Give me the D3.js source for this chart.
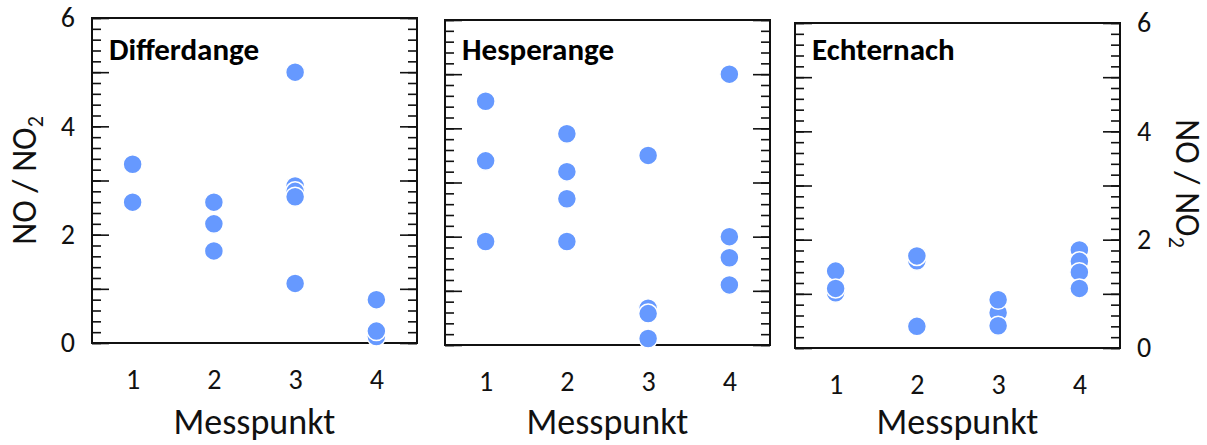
<!DOCTYPE html>
<html>
<head>
<meta charset="utf-8">
<script src="https://cdn.jsdelivr.net/npm/d3@7"></script>
<style>
  body { margin: 0; background: #fff; }
  svg { display: block; font-family: Carlito, Lato, "Open Sans", sans-serif; }
</style>
</head>
<body>
<div id="chart"></div>
<script>
// x categories and tick labels
var messpunkte = [1, 2, 3, 4];
var yLabels = [0, 2, 4, 6];
var siteNames = ["Differdange", "Hesperange", "Echternach"];

// NO/NO2 values per Messpunkt (listed in drawing order)
var differdange = [[3.30, 2.60], [2.60, 2.20, 1.70], [5.00, 2.90, 2.80, 2.70, 1.10], [0.80, 0.12, 0.22]];
var hesperange = [[4.50, 3.40, 1.91], [3.90, 3.20, 2.70, 1.91], [3.50, 0.68, 0.58, 0.12], [5.00, 2.00, 1.61, 1.11]];
var echternach = [[1.42, 1.02, 1.10], [1.61, 1.70, 0.40], [0.65, 0.89, 0.41], [1.81, 1.60, 1.40, 1.10]];

var W = 1207, H = 445;
var size = 325;
var panels = [
    { name: siteNames[0], data: differdange, left: 92, top: 18, labels: "left" },
    { name: siteNames[1], data: hesperange, left: 445, top: 20, labels: "none" },
    { name: siteNames[2], data: echternach, left: 795, top: 23, labels: "right" }
];

var svg = d3.select("#chart").append("svg")
    .attr("width", W)
    .attr("height", H);

var x = d3.scaleLinear().domain([0.5, 4.5]).range([0, size]);
var y = d3.scaleLinear().domain([0, 6]).range([size, 0]);

panels.forEach(function (p) {
    var g = svg.append("g").attr("transform", "translate(" + p.left + "," + p.top + ")");

    // minor ticks every 0.2, major every 1, both sides, pointing inward
    var minorVals = d3.range(0, 31).map(function (i) { return i / 5; });
    var majorVals = d3.range(0, 7);

    function addTicks(axisFn, xpos, vals, len) {
        var a = g.append("g")
            .attr("transform", "translate(" + xpos + ",0)")
            .call(axisFn(y).tickValues(vals).tickSize(-len).tickFormat(""));
        a.select(".domain").remove();
        a.selectAll("line").attr("stroke", "#111").attr("stroke-width", 1.6);
    }
    addTicks(d3.axisLeft, 0, minorVals, 9);
    addTicks(d3.axisLeft, 0, majorVals, 17);
    addTicks(d3.axisRight, size, minorVals, 9);
    addTicks(d3.axisRight, size, majorVals, 17);

    g.append("rect")
        .attr("x", 0).attr("y", 0)
        .attr("width", size).attr("height", size)
        .attr("fill", "none")
        .attr("stroke", "#111")
        .attr("stroke-width", 2);

    // y tick labels
    if (p.labels !== "none") {
        var ax = p.labels === "left" ? d3.axisLeft(y) : d3.axisRight(y);
        var lab = g.append("g")
            .attr("transform", "translate(" + (p.labels === "left" ? 0 : size) + ",0)")
            .call(ax.tickValues(yLabels).tickSize(0).tickPadding(17).tickFormat(d3.format("d")));
        lab.select(".domain").remove();
        lab.attr("font-size", null).attr("font-family", null);
        lab.selectAll("text").attr("font-size", 28).attr("fill", "#111");

        var yl = g.append("text")
            .attr("text-anchor", "middle")
            .attr("font-size", 34)
            .attr("fill", "#111");
        if (p.labels === "left") {
            yl.attr("transform", "translate(" + (-56) + "," + (size / 2) + ") rotate(-90)");
        } else {
            yl.attr("transform", "translate(" + (size + 56) + "," + (size / 2 - 2) + ") rotate(90)");
        }
        yl.append("tspan").text("NO / NO");
        yl.append("tspan").attr("font-size", 22).attr("dy", 7).text("2");
    }

    // x tick labels
    var xa = g.append("g")
        .attr("transform", "translate(0," + size + ")")
        .call(d3.axisBottom(x).tickValues(messpunkte).tickSize(0).tickPadding(26).tickFormat(d3.format("d")));
    xa.select(".domain").remove();
    xa.attr("font-size", null).attr("font-family", null);
    xa.selectAll("text").attr("font-size", 28).attr("fill", "#111");

    g.append("text")
        .attr("x", size / 2)
        .attr("y", 434 - p.top)
        .attr("text-anchor", "middle")
        .attr("font-size", 36)
        .attr("fill", "#111")
        .text("Messpunkt");

    // site title
    g.append("text")
        .attr("x", 17)
        .attr("y", 60 - p.top)
        .attr("font-size", 31)
        .attr("font-weight", "bold")
        .attr("fill", "#000")
        .text(p.name);

    // points
    var pts = [];
    p.data.forEach(function (vals, i) {
        vals.forEach(function (v) { pts.push({ m: messpunkte[i], v: v }); });
    });
    g.selectAll("circle.pt")
        .data(pts)
        .enter()
        .append("circle")
        .attr("class", "pt")
        .attr("cx", function (d) { return x(d.m); })
        .attr("cy", function (d) { return y(d.v); })
        .attr("r", 9.5)
        .attr("fill", "#6699ff")
        .attr("stroke", "#fff")
        .attr("stroke-width", 1.5);
});
</script>
</body>
</html>
